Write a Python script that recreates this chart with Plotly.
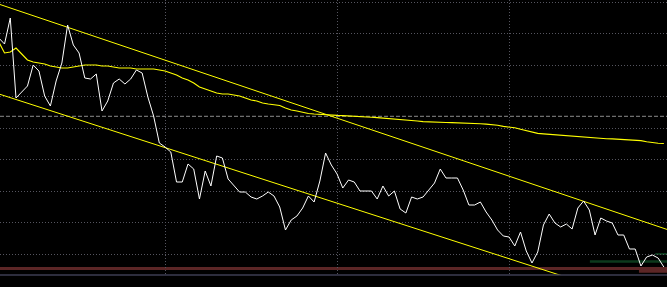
import plotly.graph_objects as go

# ---------------- data (bar index, prices) ----------------
close = [
    1.1249, 1.1243, 1.1269, 1.1189, 1.1195, 1.1201, 1.1222, 1.1216, 1.1191, 1.1181,
    1.1206, 1.1224, 1.1262, 1.1242, 1.1234, 1.1209, 1.1208, 1.1213, 1.1176, 1.1186,
    1.1204, 1.1208, 1.1203, 1.1208, 1.1217, 1.1214, 1.1190, 1.1171, 1.1144, 1.1140,
    1.1135, 1.1105, 1.1105, 1.1123, 1.1118, 1.1088, 1.1116, 1.1101, 1.1131, 1.1129,
    1.1108, 1.1101, 1.1095, 1.1095, 1.1090, 1.1088, 1.1091, 1.1095, 1.1091, 1.1080,
    1.1057, 1.1067, 1.1071, 1.1079, 1.1091, 1.1085, 1.1106, 1.1134, 1.1122, 1.1113,
    1.1099, 1.1107, 1.1105, 1.1096, 1.1096, 1.1096, 1.1088, 1.1101, 1.1091, 1.1096,
    1.1078, 1.1074, 1.1090, 1.1088, 1.1090, 1.1097, 1.1104, 1.1118, 1.1109, 1.1109,
    1.1109, 1.1097, 1.1082, 1.1082, 1.1085, 1.1075, 1.1067, 1.1057, 1.1051, 1.1050,
    1.1041, 1.1055, 1.1036, 1.1024, 1.1035, 1.1062, 1.1073, 1.1064, 1.1060, 1.1063,
    1.1058, 1.1079, 1.1086, 1.1077, 1.1052, 1.1069, 1.1066, 1.1064, 1.1052, 1.1052,
    1.1038, 1.1038, 1.1021, 1.1030, 1.1032, 1.1029, 1.1020,
]

moving_avg = [
    1.1245, 1.1234, 1.1235, 1.1239, 1.1233, 1.1227, 1.1225, 1.1224, 1.1223, 1.1221,
    1.1220, 1.1219, 1.1219, 1.1220, 1.1221, 1.1222, 1.1222, 1.1222, 1.1221, 1.1221,
    1.1220, 1.1219, 1.1219, 1.1219, 1.1218, 1.1218, 1.1218, 1.1218, 1.1217, 1.1216,
    1.1214, 1.1212, 1.1209, 1.1207, 1.1204, 1.1200, 1.1198, 1.1196, 1.1194, 1.1193,
    1.1193, 1.1192, 1.1191, 1.1189, 1.1187, 1.1186, 1.1184, 1.1183, 1.1182, 1.11815,
    1.1179, 1.1177, 1.1176, 1.11745, 1.11735, 1.1173, 1.11725, 1.1172, 1.11718, 1.11716,
    1.11714, 1.11712, 1.11708, 1.11705, 1.11702, 1.11698, 1.11694, 1.1169, 1.11686, 1.11682,
    1.11677, 1.11672, 1.11666, 1.1166, 1.11654, 1.1165, 1.11647, 1.11646, 1.11645, 1.11644,
    1.11643, 1.11643, 1.11642, 1.11637, 1.11633, 1.11629, 1.11625, 1.11618, 1.11606, 1.11602,
    1.11592, 1.11577, 1.11563, 1.1155, 1.11536, 1.11531, 1.11526, 1.11521, 1.11516, 1.11511,
    1.11507, 1.11502, 1.11497, 1.11494, 1.1149, 1.11486, 1.11483, 1.11481, 1.11478, 1.11475,
    1.11472, 1.11469, 1.11464, 1.11453, 1.11444, 1.11437, 1.11435,
]

bars = list(range(len(close)))

# trend line anchors: (bar, price)
upper_anchor = [(12, 1.12597), (102, 1.10857)]
lower_anchor = [(3, 1.11875), (93, 1.10209)]

level_price = 1.11707

# zones: (start bar, price low, price high)
red_zone = (None, 1.1017, 1.1020)
red_block = (111.66, 1.10143, 1.1020)
green_zone = (103.1, 1.10243, 1.10267)
green_block = (114.5, 1.1032, 1.1034)

x_range = [0.209, 116.55]
y_range = [1.1012, 1.1287]
grid_price0 = 1.12847
grid_price_step = 0.00315
grid_bar0 = 29
grid_bar_step = 30


def ray(anchor, x0, x1):
    (a, pa), (b, pb) = anchor
    k = (pb - pa) / (b - a)
    return [x0, x1], [pa + k * (x0 - a), pa + k * (x1 - a)]


fig = go.Figure()

# zones
zone_shapes = []
for (start, lo, hi), col in [(red_zone, "#5c2626"), (red_block, "#5c2626"),
                             (green_zone, "#0c3a1c"), (green_block, "#0c3a1c")]:
    if start is None:
        zone_shapes.append(dict(type="rect", xref="paper", yref="y", x0=0, x1=1,
                                y0=lo, y1=hi, fillcolor=col, line_width=0, layer="below"))
    else:
        zone_shapes.append(dict(type="rect", xref="x", yref="y", x0=start, x1=x_range[1] + 2,
                                y0=lo, y1=hi, fillcolor=col, line_width=0, layer="below"))

zone_shapes.append(dict(type="line", xref="paper", yref="y", x0=0, x1=1,
                        y0=level_price, y1=level_price,
                        line=dict(color="#8a8a8a", width=1, dash="4px,2px"), layer="below"))
zone_shapes.append(dict(type="line", xref="paper", yref="paper", x0=0, x1=1,
                        y0=0, y1=0, line=dict(color="#3c3c52", width=1.5)))

# trend lines
for anc in (upper_anchor, lower_anchor):
    xs, ys = ray(anc, -2, 120)
    fig.add_trace(go.Scatter(x=xs, y=ys, mode="lines",
                             line=dict(color="#ffff00", width=1), hoverinfo="skip"))

# moving average
fig.add_trace(go.Scatter(x=bars, y=moving_avg, mode="lines",
                         line=dict(color="#ffff00", width=1.1), hoverinfo="skip"))

# price line
fig.add_trace(go.Scatter(x=bars, y=close, mode="lines",
                         line=dict(color="#ffffff", width=1), hoverinfo="skip"))

fig.update_layout(
    width=667, height=287,
    margin=dict(l=0, r=0, t=0, b=12),
    paper_bgcolor="#000000", plot_bgcolor="#000000",
    showlegend=False,
    shapes=zone_shapes,
    xaxis=dict(range=x_range, showticklabels=False, zeroline=False, showline=False,
               tick0=grid_bar0, dtick=grid_bar_step, ticks="",
               showgrid=True, gridcolor="#55555f", gridwidth=1, griddash="1px,2px"),
    yaxis=dict(range=y_range, showticklabels=False, zeroline=False, showline=False,
               tick0=grid_price0, dtick=grid_price_step, ticks="",
               showgrid=True, gridcolor="#55555f", gridwidth=1, griddash="1px,2px"),
)

fig.write_html("out.html")
